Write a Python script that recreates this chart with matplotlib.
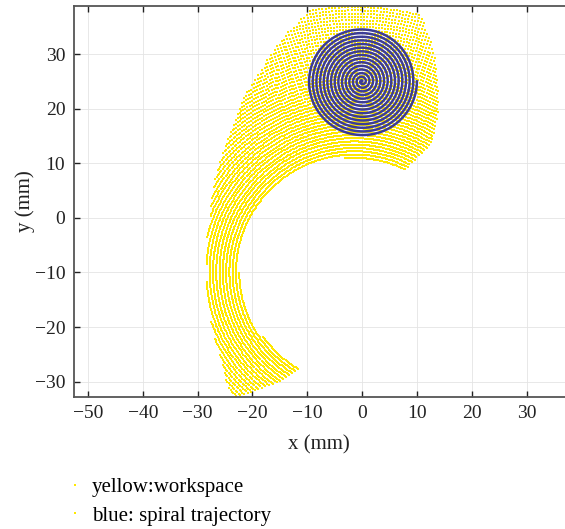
import numpy as np
import matplotlib
matplotlib.use("Agg")
import matplotlib.pyplot as plt
from matplotlib.lines import Line2D

plt.rcParams['font.family'] = ['Liberation Serif', 'DejaVu Serif']

# 工作空间边界（以 (-1.4, -10) 为极点的极坐标，从图上读取）
pole = (-1.4, -10.0)
ring_step = 0.6          # 圆弧间距 mm
phi_step = 0.7           # 每条圆弧上点的角度间隔 deg
r_inner_min = 20.4
r_outer_max = 49.0

# 右侧边界：半径 -> 起始角
right_r = [20.4, 26.8, 33.5, 40.6, 45.9, 49.0]
right_phi = [64.2, 59.0, 62.8, 68.3, 73.0, 75.8]

# 外边界：角度 -> 最大半径
outer_phi = [75.8, 99.6, 104.8, 113.9, 122.7, 129.6, 137.6, 146.2, 159.9, 178.9, 195.7, 213.5, 224.1, 240.0]
outer_r = [49.0, 48.8, 45.9, 41.2, 37.6, 34.7, 32.5, 30.6, 28.0, 26.9, 27.3, 29.0, 31.6, 33.0]

# 内边界：角度 -> 最小半径
inner_phi = [60.0, 90.0, 100.0, 130.0, 160.0, 180.0, 200.0, 222.0, 241.0]
inner_r = [20.4, 20.6, 21.4, 21.6, 21.1, 21.0, 20.8, 20.2, 20.1]

# 下端斜边：半径 -> 终止角
lower_r = [20.1, 31.5, 40.0]
lower_phi = [240.5, 226.3, 216.0]

# 螺旋轨迹
spiral_center = (0.0, 25.0)
spiral_radius = 10.0
spiral_turns = 15

xticks = [-50, -40, -30, -20, -10, 0, 10, 20, 30]
yticks = [-30, -20, -10, 0, 10, 20, 30]

# 生成工作空间点
wx, wy = [], []
for r in np.arange(r_inner_min, r_outer_max + 0.01, ring_step):
    phi = np.arange(50.0, 245.0, phi_step)
    keep = (phi >= np.interp(r, right_r, right_phi)) \
        & (phi <= np.interp(r, lower_r, lower_phi)) \
        & (r <= np.interp(phi, outer_phi, outer_r)) \
        & (r >= np.interp(phi, inner_phi, inner_r))
    p = np.radians(phi[keep])
    wx.extend(pole[0] + r * np.cos(p))
    wy.extend(pole[1] + r * np.sin(p))

# 阿基米德螺线
t = np.linspace(0, 2 * np.pi * spiral_turns, 6000)
sr = spiral_radius * t / t[-1]
sx = spiral_center[0] + sr * np.cos(t)
sy = spiral_center[1] + sr * np.sin(t)

fig = plt.figure(figsize=(5.65, 5.29), dpi=100)
ax = fig.add_axes([0.1304, 0.2495, 0.8696, 0.7392])

ax.plot(wx, wy, 's', ms=1.5, mew=0, color='#ffe800', zorder=2)
ax.plot(sx, sy, '-', lw=1.8, color='#3c3c96', zorder=3)

ax.set_xlim(-52.6, 37.0)
ax.set_ylim(-32.8, 38.8)
ax.set_xticks(xticks)
ax.set_yticks(yticks)
ax.grid(True, color='#e4e4e4', lw=0.6)
ax.set_axisbelow(True)
ax.tick_params(direction='in', top=True, right=False, length=4, width=1,
               labelsize=14, colors='#222222', pad=6)
for s in ['left', 'bottom', 'top']:
    ax.spines[s].set_color('#555555')
    ax.spines[s].set_linewidth(1.3)
ax.spines['right'].set_visible(False)

ax.set_xlabel('x (mm)', fontsize=15, color='#222222', labelpad=9)
ax.set_ylabel('y (mm)', fontsize=15, color='#222222', labelpad=0)

handles = [Line2D([], [], ls='none', marker='s', ms=2, mew=0, color='#ffe800'),
           Line2D([], [], ls='none', marker='s', ms=2, mew=0, color='#ffe800')]
fig.legend(handles, ['yellow:workspace', 'blue: spiral trajectory'],
           loc='upper left', bbox_to_anchor=(0.1145, 0.0967), frameon=False,
           fontsize=15, handlelength=1.0, handletextpad=0.3, labelspacing=0.42,
           borderaxespad=0, borderpad=0)

fig.savefig('out.png', dpi=100)
